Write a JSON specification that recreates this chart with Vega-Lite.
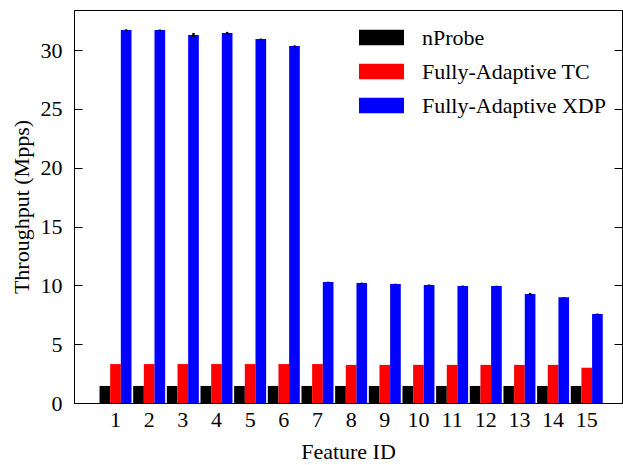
{
  "$schema": "https://vega.github.io/schema/vega-lite/v6.json",
  "autosize": {"type": "none"},
  "padding": {"left": 74, "top": 10, "right": 1, "bottom": 62},
  "width": 548,
  "height": 393,
  "config": {
    "font": "Times New Roman, Liberation Serif, serif",
    "view": {"stroke": "black", "strokeWidth": 1},
    "axis": {"labelFont": "Times New Roman, Liberation Serif, serif", "titleFont": "Times New Roman, Liberation Serif, serif", "labelColor": "black", "titleColor": "black", "labelFontSize": 22, "titleFontSize": 22, "titleFontWeight": "normal", "grid": false, "domainColor": "black", "tickColor": "black"},
    "legend": {"labelFont": "Times New Roman, Liberation Serif, serif", "labelFontSize": 22}
  },
  "data": {
    "values": [
      {"feature": "1", "system": "nProbe", "value": 1.45},
      {"feature": "2", "system": "nProbe", "value": 1.45},
      {"feature": "3", "system": "nProbe", "value": 1.45},
      {"feature": "4", "system": "nProbe", "value": 1.45},
      {"feature": "5", "system": "nProbe", "value": 1.45},
      {"feature": "6", "system": "nProbe", "value": 1.45},
      {"feature": "7", "system": "nProbe", "value": 1.45},
      {"feature": "8", "system": "nProbe", "value": 1.45},
      {"feature": "9", "system": "nProbe", "value": 1.45},
      {"feature": "10", "system": "nProbe", "value": 1.45},
      {"feature": "11", "system": "nProbe", "value": 1.45},
      {"feature": "12", "system": "nProbe", "value": 1.45},
      {"feature": "13", "system": "nProbe", "value": 1.45},
      {"feature": "14", "system": "nProbe", "value": 1.45},
      {"feature": "15", "system": "nProbe", "value": 1.45},
      {"feature": "1", "system": "Fully-Adaptive TC", "value": 3.31},
      {"feature": "2", "system": "Fully-Adaptive TC", "value": 3.31},
      {"feature": "3", "system": "Fully-Adaptive TC", "value": 3.31},
      {"feature": "4", "system": "Fully-Adaptive TC", "value": 3.31},
      {"feature": "5", "system": "Fully-Adaptive TC", "value": 3.31},
      {"feature": "6", "system": "Fully-Adaptive TC", "value": 3.31},
      {"feature": "7", "system": "Fully-Adaptive TC", "value": 3.31},
      {"feature": "8", "system": "Fully-Adaptive TC", "value": 3.24},
      {"feature": "9", "system": "Fully-Adaptive TC", "value": 3.24},
      {"feature": "10", "system": "Fully-Adaptive TC", "value": 3.24},
      {"feature": "11", "system": "Fully-Adaptive TC", "value": 3.24},
      {"feature": "12", "system": "Fully-Adaptive TC", "value": 3.24},
      {"feature": "13", "system": "Fully-Adaptive TC", "value": 3.24},
      {"feature": "14", "system": "Fully-Adaptive TC", "value": 3.24},
      {"feature": "15", "system": "Fully-Adaptive TC", "value": 3.0},
      {"feature": "1", "system": "Fully-Adaptive XDP", "value": 31.69, "lo": 31.62, "hi": 31.76},
      {"feature": "2", "system": "Fully-Adaptive XDP", "value": 31.69, "lo": 31.64, "hi": 31.74},
      {"feature": "3", "system": "Fully-Adaptive XDP", "value": 31.27, "lo": 31.1, "hi": 31.44},
      {"feature": "4", "system": "Fully-Adaptive XDP", "value": 31.44, "lo": 31.34, "hi": 31.54},
      {"feature": "5", "system": "Fully-Adaptive XDP", "value": 30.93, "lo": 30.89, "hi": 30.97},
      {"feature": "6", "system": "Fully-Adaptive XDP", "value": 30.33, "lo": 30.27, "hi": 30.39},
      {"feature": "7", "system": "Fully-Adaptive XDP", "value": 10.28, "lo": 10.25, "hi": 10.31},
      {"feature": "8", "system": "Fully-Adaptive XDP", "value": 10.2, "lo": 10.17, "hi": 10.23},
      {"feature": "9", "system": "Fully-Adaptive XDP", "value": 10.11, "lo": 10.08, "hi": 10.14},
      {"feature": "10", "system": "Fully-Adaptive XDP", "value": 10.03, "lo": 9.99, "hi": 10.07},
      {"feature": "11", "system": "Fully-Adaptive XDP", "value": 9.94, "lo": 9.9, "hi": 9.98},
      {"feature": "12", "system": "Fully-Adaptive XDP", "value": 9.94, "lo": 9.91, "hi": 9.97},
      {"feature": "13", "system": "Fully-Adaptive XDP", "value": 9.26, "lo": 9.16, "hi": 9.36},
      {"feature": "14", "system": "Fully-Adaptive XDP", "value": 8.98, "lo": 8.95, "hi": 9.01},
      {"feature": "15", "system": "Fully-Adaptive XDP", "value": 7.56, "lo": 7.52, "hi": 7.6}
    ]
  },
  "encoding": {
    "x": {
      "field": "feature", "type": "ordinal", "sort": null,
      "scale": {"paddingInner": 0.05, "paddingOuter": 0.665, "align": 0.57},
      "axis": {"title": "Feature ID", "labelAngle": 0, "ticks": false, "labelPadding": 6, "titlePadding": 11}
    },
    "xOffset": {
      "field": "system", "type": "nominal",
      "sort": ["nProbe", "Fully-Adaptive TC", "Fully-Adaptive XDP"],
      "scale": {"domain": ["nProbe", "Fully-Adaptive TC", "Fully-Adaptive XDP"], "paddingInner": 0, "paddingOuter": 0}
    }
  },
  "layer": [
    {
      "mark": {"type": "bar"},
      "encoding": {
        "y": {
          "field": "value", "type": "quantitative",
          "scale": {"domain": [0, 33.4], "nice": false, "zero": true},
          "axis": {"title": "Throughput (Mpps)", "values": [0, 5, 10, 15, 20, 25, 30], "tickSize": -8, "labelPadding": 20, "titlePadding": 7}
        },
        "color": {
          "field": "system", "type": "nominal",
          "scale": {"domain": ["nProbe", "Fully-Adaptive TC", "Fully-Adaptive XDP"], "range": ["#000000", "#ff0000", "#0000ff"]},
          "legend": {
            "title": null, "orient": "none", "legendX": 285, "legendY": 5,
            "symbolType": "M-1,-0.34H1V0.34H-1Z", "symbolSize": 2025, "symbolStrokeWidth": 0,
            "labelFontSize": 22, "labelColor": "black", "labelLimit": 400,
            "labelOffset": 18, "rowPadding": -4
          }
        }
      }
    },
    {
      "mark": {"type": "rule", "color": "black", "strokeWidth": 2.5},
      "encoding": {
        "y": {"field": "lo", "type": "quantitative", "axis": {"orient": "right", "title": null, "labels": false, "values": [0, 5, 10, 15, 20, 25, 30], "tickSize": -8, "domain": false}},
        "y2": {"field": "hi"}
      }
    }
  ],
  "resolve": {"axis": {"y": "independent"}}
}
